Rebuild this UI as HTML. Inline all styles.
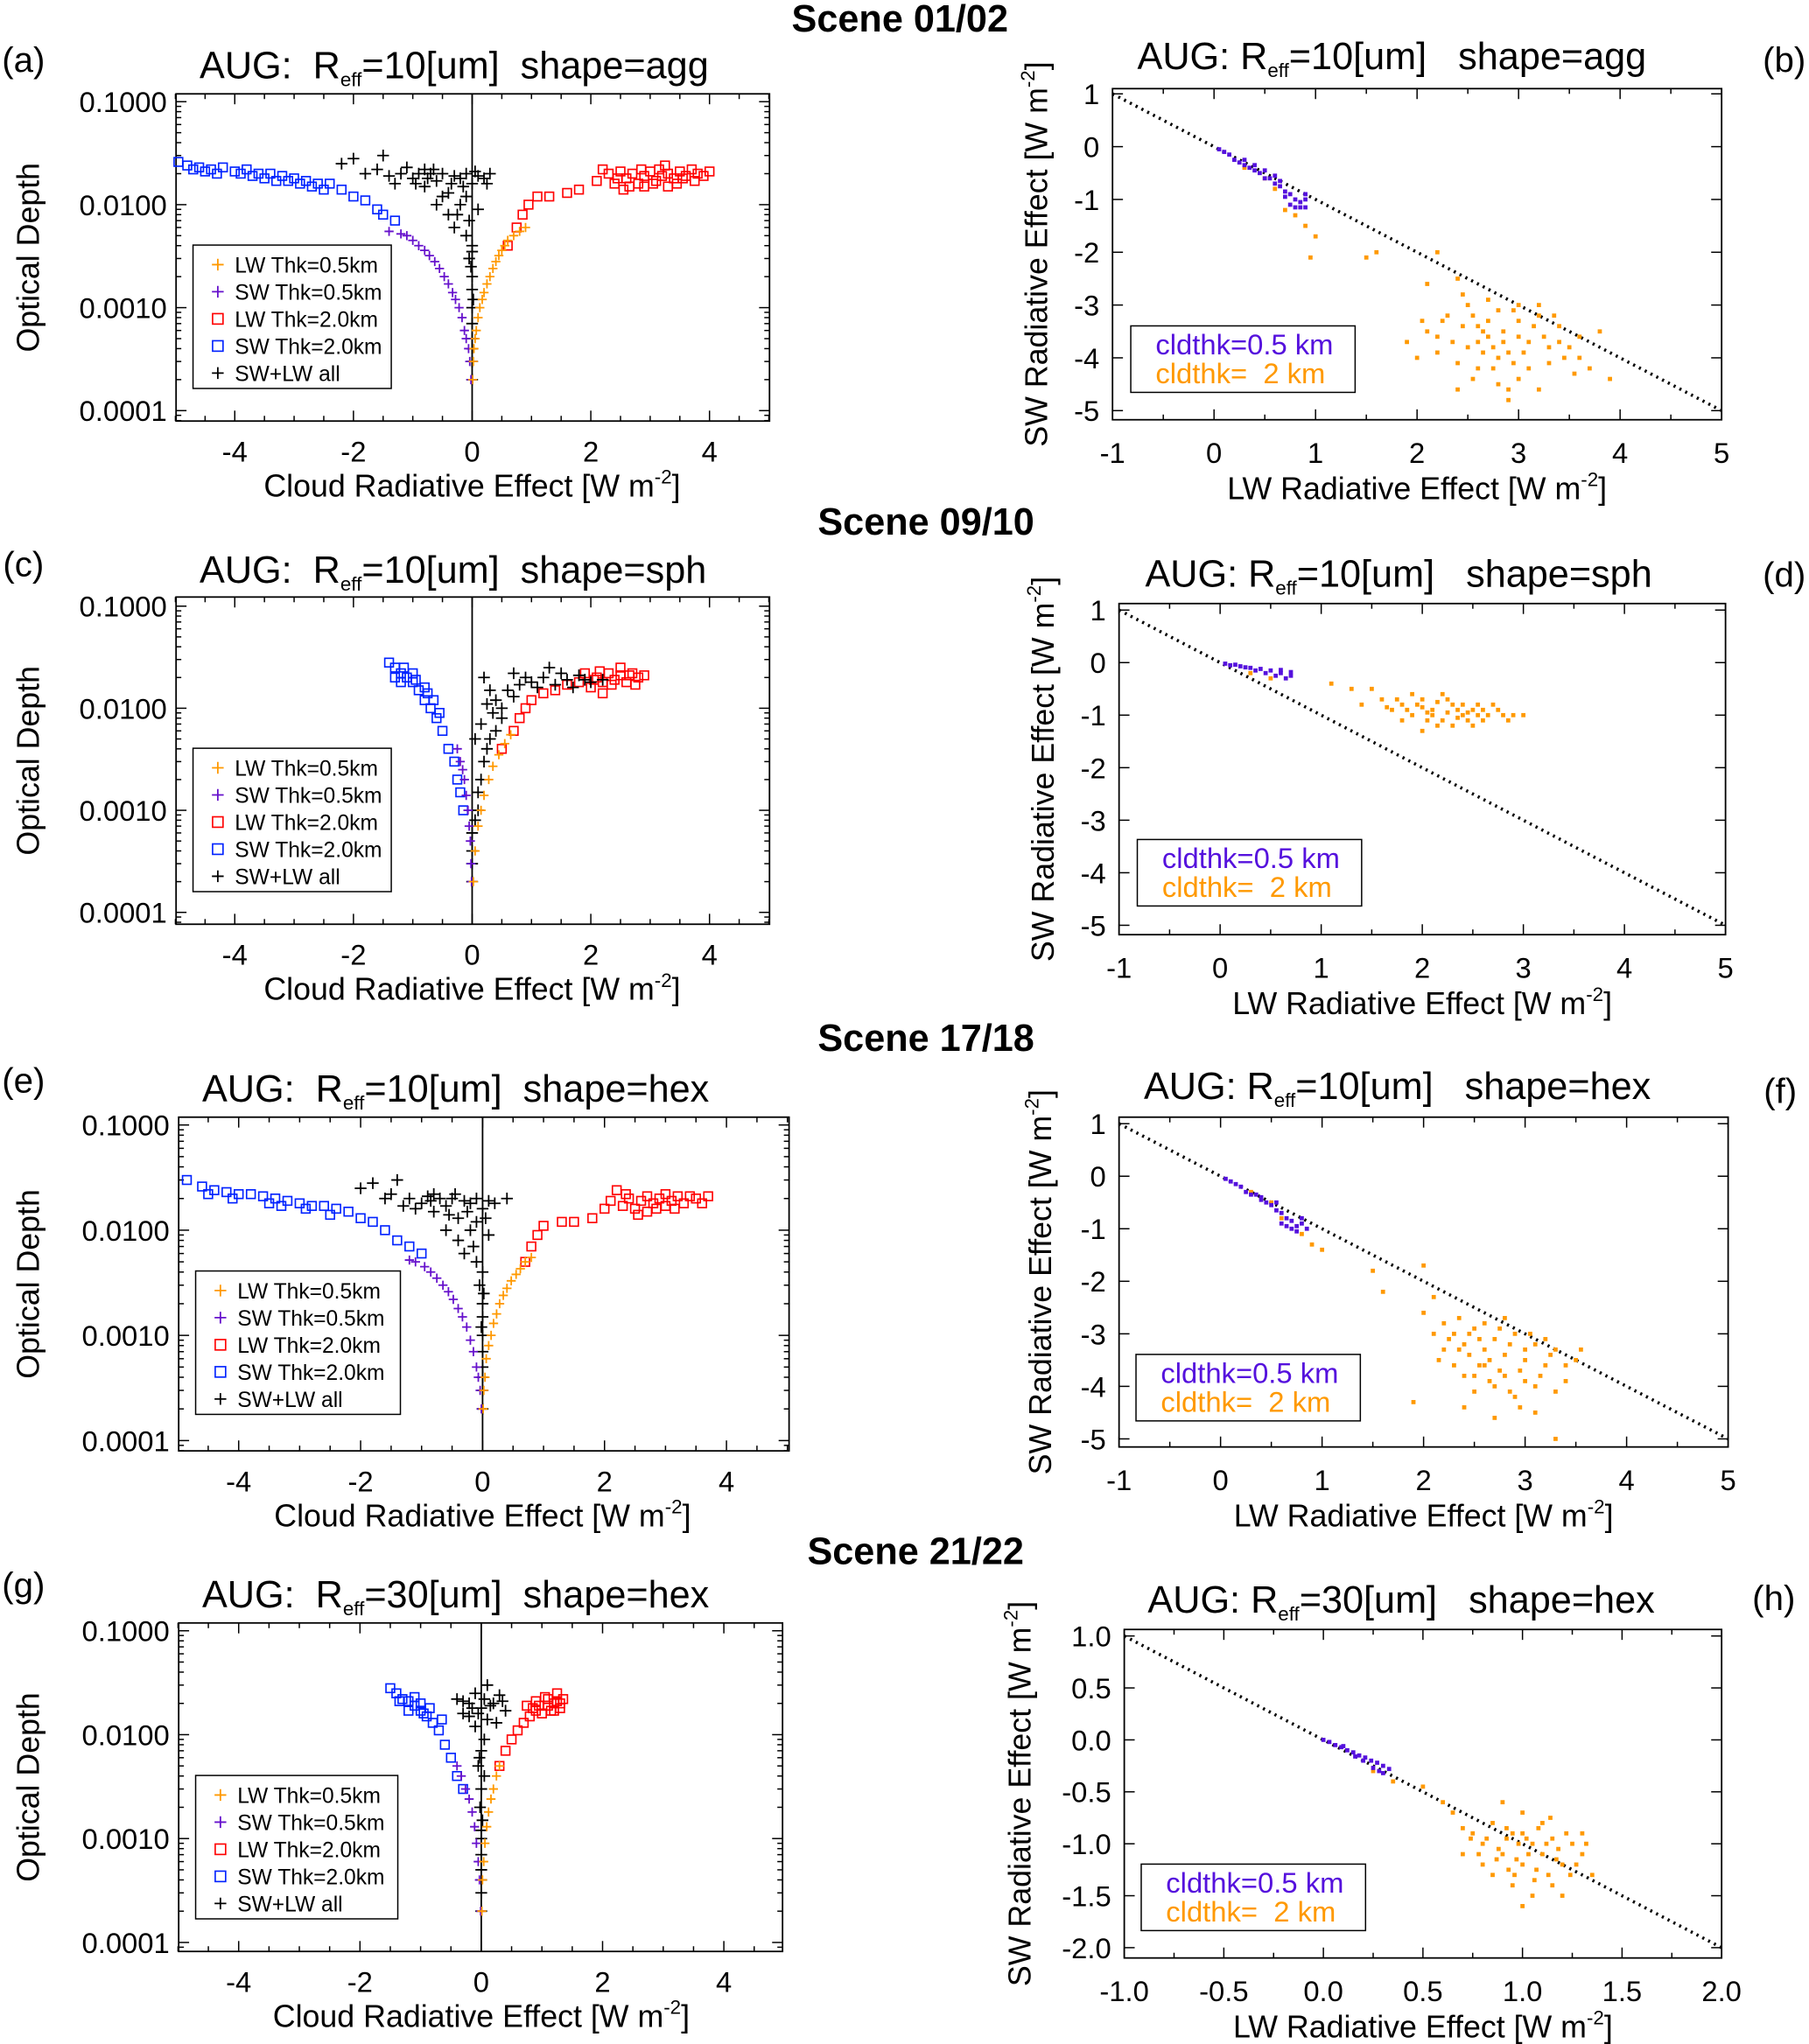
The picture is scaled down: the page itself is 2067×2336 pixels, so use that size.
<!DOCTYPE html>
<html><head><meta charset="utf-8"><style>
html,body{margin:0;padding:0;background:#fff;}
svg{display:block;font-family:"Liberation Sans",sans-serif;}
</style></head><body>
<svg id="fig" xmlns="http://www.w3.org/2000/svg" width="2067" height="2336" viewBox="0 0 1387 1568" preserveAspectRatio="none"></svg>
<script>
// ---------- data ----------
const aLW05=[[0.01,0.0002],[0.02,0.0003],[0.03,0.0004],[0.05,0.0005],[0.07,0.0006],[0.1,0.0008],[0.13,0.001],[0.17,0.0012],[0.2,0.0014],[0.25,0.0017],[0.3,0.002],[0.35,0.0024],[0.4,0.0028],[0.45,0.0032],[0.5,0.0036],[0.55,0.004],[0.6,0.0045],[0.7,0.005],[0.8,0.0055],[0.9,0.006]];
const aSW05=[[-0.02,0.0002],[-0.04,0.0003],[-0.06,0.0004],[-0.1,0.0005],[-0.13,0.0006],[-0.17,0.0008],[-0.22,0.001],[-0.28,0.0012],[-0.33,0.0014],[-0.4,0.0017],[-0.47,0.002],[-0.55,0.0024],[-0.63,0.0028],[-0.72,0.0032],[-0.8,0.0036],[-0.9,0.004],[-1.0,0.0045],[-1.1,0.005],[-1.2,0.0052],[-1.4,0.0055]];
const aLW20=[[0.6,0.004],[0.75,0.006],[0.85,0.008],[0.95,0.01],[1.1,0.012],[1.3,0.012],[1.6,0.013],[1.8,0.014],[2.1,0.017],[2.3,0.02],[2.4,0.016],[2.6,0.018],[2.7,0.02],[2.8,0.016],[2.9,0.019],[3.0,0.021],[3.1,0.017],[3.2,0.019],[3.3,0.02],[3.4,0.018],[3.5,0.021],[3.6,0.019],[3.7,0.022],[3.8,0.02],[4.0,0.021],[2.5,0.021],[3.3,0.015],[2.9,0.015],[2.2,0.022],[2.45,0.018],[2.65,0.015],[2.85,0.022],[3.05,0.016],[3.15,0.022],[3.45,0.016],[3.55,0.018],[3.75,0.017],[3.9,0.019],[2.55,0.014],[3.25,0.024]];
const aSW20=[[-4.95,0.026],[-4.8,0.024],[-4.6,0.023],[-4.4,0.022],[-4.2,0.023],[-4.0,0.021],[-3.8,0.022],[-3.6,0.02],[-3.4,0.02],[-3.2,0.019],[-3.0,0.018],[-2.8,0.017],[-2.6,0.016],[-2.4,0.016],[-2.2,0.014],[-2.0,0.012],[-1.8,0.011],[-1.6,0.009],[-1.5,0.008],[-1.3,0.007],[-3.9,0.02],[-4.5,0.021],[-3.3,0.017],[-2.9,0.016],[-4.7,0.022],[-4.3,0.02],[-3.7,0.019],[-3.5,0.018],[-3.1,0.017],[-2.7,0.015],[-2.5,0.014]];
const aALL=[[-2.2,0.025],[-2.0,0.028],[-1.8,0.02],[-1.5,0.03],[-1.3,0.016],[-1.2,0.02],[-1.0,0.018],[-0.9,0.02],[-0.8,0.015],[-0.7,0.02],[-0.6,0.017],[-0.5,0.02],[-0.4,0.013],[-0.3,0.019],[-0.2,0.018],[-0.1,0.02],[0.0,0.016],[0.1,0.019],[0.2,0.018],[0.3,0.02],[-0.6,0.01],[-0.4,0.008],[-0.3,0.006],[-0.2,0.01],[-0.1,0.005],[0.0,0.004],[-0.05,0.003],[0.0,0.002],[0.0,0.0015],[0.0,0.001],[0.0,0.0007],[0.0,0.0005],[0.0,0.0004],[0.0,0.0003],[0.0,0.0002],[-0.1,0.012],[0.1,0.009],[-0.8,0.022],[-1.6,0.022],[-1.1,0.023],[-1.4,0.019],[-0.95,0.016],[-0.65,0.022],[-0.35,0.016],[-0.15,0.015],[0.05,0.021],[-0.5,0.012],[-0.25,0.008],[-0.05,0.007],[0.02,0.0012],[-0.02,0.0025],[0.0,0.0035],[-0.75,0.018],[0.25,0.016]];

const cLW05=[[0.02,0.0002],[0.05,0.0004],[0.1,0.0007],[0.15,0.001],[0.2,0.0014],[0.28,0.002],[0.35,0.0027],[0.45,0.0035],[0.55,0.0045],[0.65,0.0055]];
const cSW05=[[-0.01,0.0002],[-0.02,0.0003],[-0.03,0.0005],[-0.05,0.0007],[-0.07,0.001],[-0.1,0.0014],[-0.13,0.002],[-0.16,0.0025],[-0.2,0.003],[-0.25,0.004]];
const cLW20=[[0.5,0.004],[0.7,0.006],[0.8,0.008],[0.9,0.01],[1.0,0.012],[1.2,0.014],[1.4,0.015],[1.6,0.017],[1.8,0.018],[2.0,0.016],[2.1,0.02],[2.2,0.018],[2.3,0.022],[2.4,0.019],[2.5,0.021],[2.6,0.018],[2.7,0.022],[2.8,0.02],[2.9,0.021],[2.2,0.014],[2.5,0.025],[1.9,0.022],[2.15,0.023],[2.35,0.017],[2.65,0.021],[2.75,0.017],[2.05,0.019]];
const cSW20=[[-1.4,0.028],[-1.3,0.025],[-1.2,0.022],[-1.1,0.02],[-1.0,0.018],[-0.9,0.015],[-0.8,0.012],[-0.7,0.01],[-0.6,0.008],[-0.5,0.006],[-0.4,0.004],[-0.3,0.003],[-0.25,0.002],[-0.2,0.0015],[-0.15,0.001],[-1.2,0.018],[-1.0,0.022],[-0.8,0.016],[-1.3,0.02],[-0.65,0.012],[-1.15,0.025],[-0.95,0.019],[-0.75,0.014],[-0.55,0.009]];
const cALL=[[0,0.0002],[0,0.0003],[0,0.0004],[0,0.0006],[0.05,0.0008],[0.1,0.001],[0.1,0.0015],[0.15,0.002],[0.2,0.003],[0.25,0.004],[0.3,0.005],[0.4,0.006],[0.5,0.008],[0.4,0.012],[0.6,0.015],[0.8,0.017],[1.0,0.018],[1.2,0.02],[1.4,0.017],[1.6,0.019],[1.8,0.021],[2.0,0.018],[1.3,0.025],[0.9,0.02],[0.3,0.015],[0.2,0.02],[0.7,0.022],[1.5,0.022],[2.2,0.019],[0.5,0.01],[0.35,0.009],[0.7,0.013],[1.1,0.016],[1.7,0.016],[0.15,0.007],[0.25,0.011],[1.9,0.019],[0.05,0.005]];

const eLW05=[[0.01,0.0002],[0.02,0.0003],[0.04,0.0004],[0.06,0.0006],[0.1,0.0008],[0.14,0.001],[0.18,0.0013],[0.23,0.0016],[0.28,0.002],[0.34,0.0024],[0.4,0.0028],[0.47,0.0033],[0.55,0.0038],[0.62,0.0043],[0.7,0.005],[0.8,0.0055]];
const eSW05=[[-0.02,0.0002],[-0.04,0.0003],[-0.07,0.0004],[-0.1,0.0005],[-0.15,0.0007],[-0.2,0.0009],[-0.26,0.0012],[-0.33,0.0015],[-0.4,0.0018],[-0.48,0.0022],[-0.56,0.0026],[-0.65,0.003],[-0.75,0.0035],[-0.85,0.004],[-0.95,0.0045],[-1.1,0.005],[-1.2,0.0052]];
const eLW20=[[0.7,0.005],[0.8,0.007],[0.9,0.009],[1.0,0.011],[1.3,0.012],[1.5,0.012],[1.8,0.013],[2.0,0.016],[2.1,0.019],[2.3,0.017],[2.4,0.02],[2.5,0.016],[2.6,0.019],[2.7,0.021],[2.8,0.018],[2.9,0.02],[3.0,0.017],[3.1,0.019],[3.2,0.021],[3.3,0.018],[3.5,0.02],[3.7,0.021],[2.2,0.024],[2.7,0.015],[3.0,0.022],[2.35,0.022],[2.55,0.014],[2.85,0.016],[3.15,0.016],[3.4,0.021],[3.6,0.018]];
const eSW20=[[-4.85,0.03],[-4.6,0.026],[-4.4,0.024],[-4.2,0.023],[-4.0,0.022],[-3.8,0.022],[-3.6,0.021],[-3.4,0.02],[-3.2,0.019],[-3.0,0.018],[-2.8,0.017],[-2.6,0.017],[-2.4,0.016],[-2.2,0.015],[-2.0,0.013],[-1.8,0.012],[-1.6,0.01],[-1.4,0.008],[-1.2,0.007],[-1.0,0.006],[-4.1,0.02],[-3.5,0.018],[-2.9,0.016],[-4.5,0.022],[-3.3,0.017],[-2.5,0.014]];
const eALL=[[-2.0,0.025],[-1.8,0.028],[-1.6,0.02],[-1.4,0.03],[-1.3,0.017],[-1.2,0.02],[-1.0,0.018],[-0.9,0.021],[-0.8,0.015],[-0.7,0.02],[-0.6,0.017],[-0.5,0.02],[-0.4,0.013],[-0.3,0.019],[-0.2,0.018],[-0.1,0.02],[0.0,0.016],[0.1,0.019],[0.2,0.018],[0.4,0.02],[-0.6,0.01],[-0.4,0.008],[-0.3,0.006],[-0.2,0.01],[-0.1,0.005],[0.0,0.004],[-0.05,0.003],[0.0,0.002],[0.0,0.0015],[0.0,0.001],[0.0,0.0007],[0.0,0.0005],[0.0,0.0004],[0.0,0.0003],[0.0,0.0002],[-0.1,0.012],[0.1,0.009],[-0.8,0.022],[-1.5,0.022],[-1.1,0.016],[-0.85,0.019],[-0.55,0.014],[-0.25,0.015],[0.05,0.013],[-0.45,0.022],[-0.15,0.007],[0.02,0.0025],[-0.02,0.0012]];

const gLW05=[[0.01,0.0002],[0.02,0.0004],[0.04,0.0006],[0.06,0.0009],[0.09,0.0013],[0.12,0.0018],[0.16,0.0024],[0.2,0.003],[0.25,0.004],[0.3,0.005]];
const gSW05=[[-0.01,0.0002],[-0.03,0.0004],[-0.05,0.0006],[-0.08,0.0009],[-0.11,0.0013],[-0.15,0.0018],[-0.2,0.0024],[-0.26,0.003],[-0.33,0.004],[-0.4,0.005]];
const gLW20=[[0.3,0.005],[0.4,0.007],[0.5,0.009],[0.6,0.011],[0.7,0.013],[0.8,0.015],[0.9,0.017],[1.0,0.016],[1.1,0.019],[1.2,0.02],[1.3,0.018],[1.35,0.022],[0.9,0.021],[1.05,0.023],[1.25,0.025],[0.75,0.019],[1.15,0.017],[1.3,0.02],[0.95,0.019],[1.1,0.022],[1.2,0.017],[0.85,0.018],[1.25,0.021]];
const gSW20=[[-1.5,0.028],[-1.4,0.025],[-1.3,0.022],[-1.2,0.021],[-1.1,0.019],[-1.0,0.017],[-0.9,0.015],[-0.8,0.013],[-0.7,0.011],[-0.6,0.008],[-0.5,0.006],[-0.4,0.004],[-0.3,0.003],[-1.2,0.017],[-1.0,0.02],[-0.85,0.018],[-0.65,0.014],[-1.35,0.021],[-1.1,0.023],[-0.95,0.016]];
const gALL=[[0,0.0002],[0,0.0003],[0,0.0004],[0,0.0005],[0,0.0007],[0,0.001],[0.02,0.0015],[-0.02,0.002],[0,0.003],[0.05,0.004],[-0.05,0.005],[0,0.007],[0.05,0.009],[-0.1,0.012],[0.1,0.014],[-0.3,0.016],[-0.2,0.02],[0,0.018],[0.2,0.02],[0.4,0.017],[-0.4,0.022],[-0.1,0.025],[0.3,0.024],[0.1,0.03],[-0.2,0.015],[0.25,0.013],[-0.05,0.016],[0.15,0.019],[-0.3,0.021],[0.05,0.022],[-0.15,0.018],[0.35,0.021],[0.0,0.0012],[-0.03,0.006]];

const bSW05=[[0.05,-0.05],[0.1,-0.1],[0.15,-0.15],[0.2,-0.25],[0.25,-0.3],[0.3,-0.35],[0.35,-0.4],[0.4,-0.45],[0.45,-0.5],[0.5,-0.6],[0.55,-0.6],[0.6,-0.7],[0.65,-0.75],[0.7,-0.85],[0.75,-0.9],[0.8,-1.0],[0.85,-1.05],[0.9,-1.0],[0.85,-1.15],[0.75,-1.1],[0.9,-0.9],[0.3,-0.25],[0.5,-0.45],[0.6,-0.55],[0.7,-0.95],[0.8,-1.15],[0.9,-1.15],[0.65,-0.65],[0.4,-0.35]];
const bLW20=[[0.3,-0.4],[0.5,-0.6],[0.6,-0.8],[0.7,-1.2],[0.8,-1.3],[0.9,-1.5],[1.0,-1.7],[0.95,-2.1],[1.6,-2.0],[1.5,-2.1],[2.2,-2.0],[2.4,-2.5],[2.1,-2.6],[2.5,-3.0],[2.3,-3.2],[2.6,-3.4],[2.8,-3.1],[3.0,-3.3],[3.2,-3.0],[3.1,-3.7],[2.9,-3.9],[2.7,-3.6],[2.5,-3.8],[2.2,-3.9],[2.0,-4.0],[2.6,-4.2],[2.8,-4.5],[3.0,-4.4],[3.3,-4.1],[3.5,-3.8],[3.6,-3.6],[3.8,-3.5],[3.4,-3.4],[3.7,-4.2],[3.9,-4.4],[2.4,-4.6],[2.9,-4.8],[3.2,-4.6],[2.1,-3.5],[1.9,-3.7],[3.0,-3.6],[2.7,-3.3],[3.3,-3.8],[2.8,-4.0],[2.6,-3.7]];
const bLW20b=[[2.55,-3.2],[2.65,-3.5],[2.75,-3.8],[2.85,-3.5],[2.95,-3.1],[3.05,-3.9],[3.15,-3.4],[3.25,-3.6],[3.35,-3.2],[3.45,-4.0],[2.45,-3.4],[2.35,-3.7],[2.25,-3.3],[2.75,-4.2],[2.95,-4.1],[3.1,-4.2],[2.65,-3.9],[2.85,-3.7],[3.4,-3.7],[3.55,-4.3],[2.55,-4.4],[2.2,-3.6],[2.45,-2.8],[2.7,-2.9],[3.2,-3.2],[2.9,-4.6],[3.6,-4.0],[2.4,-4.1],[2.05,-3.3],[3.0,-3.0]];
const dSW05=[[0.05,-0.02],[0.1,-0.05],[0.2,-0.07],[0.3,-0.1],[0.4,-0.12],[0.5,-0.15],[0.6,-0.2],[0.7,-0.25],[0.65,-0.3],[0.45,-0.2],[0.35,-0.15],[0.55,-0.25],[0.15,-0.04],[0.25,-0.09],[0.6,-0.14],[0.7,-0.18]];
const dLW20=[[0.3,-0.2],[0.5,-0.3],[1.1,-0.4],[1.3,-0.5],[1.5,-0.5],[1.4,-0.8],[1.6,-0.7],[1.7,-0.9],[1.8,-0.8],[1.9,-1.0],[2.0,-0.7],[2.1,-0.9],[2.2,-1.1],[2.3,-0.8],[2.4,-1.0],[2.5,-0.9],[2.6,-1.1],[2.7,-0.8],[2.8,-1.0],[2.9,-1.0],[3.0,-1.0],[2.0,-1.3],[2.2,-0.6],[1.8,-1.1],[2.5,-1.2],[2.3,-1.2],[1.9,-0.6],[2.1,-1.0],[2.4,-0.8],[2.6,-0.9]];
const dLW20b=[[1.85,-0.9],[1.95,-0.8],[2.05,-0.95],[2.15,-0.75],[2.25,-0.95],[2.35,-0.9],[2.45,-1.1],[2.55,-0.8],[2.65,-1.0],[2.75,-0.9],[2.85,-1.1],[1.75,-0.7],[2.05,-1.1],[2.25,-0.7],[2.45,-0.95],[2.15,-1.2],[1.65,-0.85],[2.35,-1.05],[2.55,-1.0],[2.0,-0.85]];
const fSW05=[[0.05,-0.05],[0.1,-0.1],[0.15,-0.15],[0.2,-0.2],[0.25,-0.3],[0.3,-0.35],[0.35,-0.35],[0.4,-0.45],[0.45,-0.5],[0.5,-0.55],[0.55,-0.65],[0.6,-0.7],[0.65,-0.8],[0.7,-0.85],[0.75,-0.95],[0.8,-0.9],[0.75,-1.05],[0.65,-0.95],[0.8,-0.8],[0.4,-0.4],[0.55,-0.5],[0.7,-1.0],[0.6,-0.9],[0.85,-1.0]];
const fLW20=[[0.3,-0.3],[0.5,-0.5],[0.6,-0.8],[0.8,-1.1],[0.9,-1.3],[1.0,-1.4],[1.5,-1.8],[1.6,-2.2],[2.0,-1.7],[2.1,-2.3],[2.0,-2.6],[2.2,-2.8],[2.3,-3.0],[2.4,-3.2],[2.5,-2.9],[2.6,-3.3],[2.7,-3.1],[2.8,-3.4],[2.9,-3.0],[3.0,-3.5],[3.1,-3.2],[3.2,-3.6],[3.3,-3.3],[3.4,-3.9],[3.5,-3.5],[2.3,-3.6],[2.5,-3.8],[2.7,-4.0],[2.9,-4.2],[2.4,-4.4],[3.1,-4.5],[1.9,-4.3],[2.6,-3.6],[2.8,-3.8],[3.0,-3.9],[3.3,-4.1],[2.2,-3.3],[3.3,-5.0],[2.7,-4.6],[2.1,-3.0]];
const fLW20b=[[2.35,-2.7],[2.45,-3.4],[2.55,-3.1],[2.65,-3.5],[2.75,-2.9],[2.85,-3.2],[2.95,-3.7],[3.05,-3.0],[3.15,-3.8],[3.25,-3.4],[2.45,-3.0],[2.55,-3.6],[2.65,-3.9],[2.35,-3.3],[2.25,-3.1],[2.75,-3.7],[2.85,-4.1],[3.0,-3.3],[3.2,-3.1],[3.4,-3.6],[2.6,-2.8],[2.5,-4.1],[2.95,-4.4],[2.15,-3.5],[3.1,-4.0],[2.4,-3.8],[3.55,-3.3],[2.8,-2.7]];
const hSW05=[[0.0,0.0],[0.03,-0.02],[0.06,-0.05],[0.09,-0.07],[0.12,-0.1],[0.15,-0.12],[0.18,-0.15],[0.21,-0.17],[0.24,-0.2],[0.27,-0.22],[0.3,-0.25],[0.33,-0.28],[0.3,-0.32],[0.25,-0.27],[0.2,-0.2],[0.1,-0.06],[0.16,-0.16],[0.28,-0.3]];
const hLW20=[[0.25,-0.3],[0.35,-0.4],[0.5,-0.45],[0.6,-0.6],[0.65,-0.7],[0.7,-0.85],[0.75,-0.9],[0.8,-1.0],[0.85,-0.8],[0.9,-1.1],[0.95,-0.9],[1.0,-1.2],[1.05,-1.0],[1.1,-1.1],[1.15,-0.95],[1.2,-1.2],[1.25,-1.0],[1.3,-1.1],[1.35,-1.3],[0.85,-1.3],[0.95,-1.4],[1.05,-1.5],[1.15,-1.4],[1.0,-0.7],[0.9,-0.6],[1.1,-0.8],[0.8,-1.2],[1.2,-1.5],[0.7,-1.1],[1.3,-0.9],[1.0,-1.6]];
const hLW20b=[[0.82,-0.95],[0.88,-1.05],[0.92,-0.85],[0.97,-1.15],[1.02,-0.95],[1.07,-1.25],[1.12,-1.0],[1.17,-1.15],[1.22,-0.9],[1.27,-1.2],[0.87,-1.15],[0.93,-1.25],[0.98,-1.0],[1.03,-1.1],[1.08,-0.85],[1.13,-1.3],[1.18,-1.05],[0.78,-1.1],[0.92,-0.95],[1.0,-0.9],[1.06,-1.35],[0.96,-1.3],[1.24,-1.3],[1.32,-1.0],[0.74,-0.95],[1.14,-0.75]];

// ---------- helpers ----------
const NS="http://www.w3.org/2000/svg";
const svg=document.getElementById('fig');
function el(tag,attrs,parent){const e=document.createElementNS(NS,tag);for(const k in attrs)e.setAttribute(k,attrs[k]);(parent||svg).appendChild(e);return e;}
function txt(s,x,y,size,anchor,parent,extra){const t=el('text',Object.assign({x:x,y:y,'font-size':size,'text-anchor':anchor||'start',fill:'#000'},extra||{}),parent);t.textContent=s;return t;}
const COL={lw05:'#ff9900',sw05:'#6611cc',lw20:'#ff0000',sw20:'#0022ff',all:'#000',purple:'#5511dd'};
const SP='\u00a0';

function plus(g,x,y,s,c){el('path',{d:`M${x-s} ${y}H${x+s}M${x} ${y-s}V${y+s}`,stroke:c,'stroke-width':1.2,fill:'none'},g);}
function sq(g,x,y,s,c){el('rect',{x:x-s,y:y-s,width:2*s,height:2*s,stroke:c,'stroke-width':1.1,fill:'none'},g);}

function leftPanel(P){
  const g=el('g',{});
  
  
  const X=v=>P.x0+v*P.xs;
  const Y=t=>P.y1+(-1-Math.log10(t))*P.dec;
  el('rect',{x:P.l,y:P.t,width:P.r-P.l,height:P.b-P.t,fill:'none',stroke:'#000','stroke-width':1.2},g);
  el('line',{x1:X(0),y1:P.t,x2:X(0),y2:P.b,stroke:'#000','stroke-width':1.2},g);
  for(let v=-5;v<=5;v+=0.5){const x=X(v);if(x<P.l-0.5||x>P.r+0.5)continue;const L=(v%2===0)?8:4;
    el('line',{x1:x,y1:P.b,x2:x,y2:P.b-L,stroke:'#000','stroke-width':1},g);el('line',{x1:x,y1:P.t,x2:x,y2:P.t+L,stroke:'#000','stroke-width':1},g);}
  [-4,-2,0,2,4].forEach(v=>{const t=txt(String(v),X(v),P.b+31,22,'middle',g);});
  for(let d=-5;d<=-1;d++){for(let m=1;m<10;m++){const t=m*Math.pow(10,d);const y=Y(t);if(y<P.t||y>P.b)continue;const L=m===1?8:4;
    el('line',{x1:P.l,y1:y,x2:P.l+L,y2:y,stroke:'#000','stroke-width':1},g);el('line',{x1:P.r,y1:y,x2:P.r-L,y2:y,stroke:'#000','stroke-width':1},g);}}
  ['0.1000','0.0100','0.0010','0.0001'].forEach((s,i)=>{const t=txt(s,P.l-7,Y(Math.pow(10,-1-i))+8,22,'end',g);});
  P.d.sw20.forEach(p=>sq(g,X(p[0]),Y(p[1]),3.3,COL.sw20));
  P.d.lw20.forEach(p=>sq(g,X(p[0]),Y(p[1]),3.3,COL.lw20));
  P.d.all.forEach(p=>plus(g,X(p[0]),Y(p[1]),4.5,COL.all));
  P.d.sw05.forEach(p=>plus(g,X(p[0]),Y(p[1]),3.5,COL.sw05));
  P.d.lw05.forEach(p=>plus(g,X(p[0]),Y(p[1]),3.5,COL.lw05));
  const tt=el('text',{x:P.tx,y:P.ty,'font-size':29,fill:'#000'},g);
  
  tt.innerHTML=`AUG:${SP}${SP}R<tspan font-size="15" dy="6">eff</tspan><tspan dy="-6">=${P.reff}[um]${SP}${SP}shape=${P.shape}</tspan>`;
  const yt=txt('Optical Depth',0,0,24,'middle',g,{transform:`translate(30,${(P.t+P.b)/2}) rotate(-90)`});
  
  const xt=el('text',{x:X(0),y:P.b+58,'font-size':24,'text-anchor':'middle',fill:'#000'},g);
  
  xt.innerHTML='Cloud Radiative Effect [W m<tspan font-size="15" dy="-10">-2</tspan><tspan dy="10">]</tspan>';
  const lg=el('g',{},g);
  
  el('rect',{x:P.lx,y:P.ly,width:P.lw,height:110,fill:'#fff',stroke:'#000','stroke-width':1},lg);
  const items=[['LW Thk=0.5km',COL.lw05,'p'],['SW Thk=0.5km',COL.sw05,'p'],['LW Thk=2.0km',COL.lw20,'s'],['SW Thk=2.0km',COL.sw20,'s'],['SW+LW all','#000','p']];
  items.forEach((it,i)=>{const y=P.ly+15+i*20.8;const mx=P.lx+19;
    if(it[2]==='p')plus(lg,mx,y,4.5,it[1]);else sq(lg,mx,y,4,it[1]);
    const t=txt(it[0],P.lx+32,y+6,16.5,'start',lg);});
}

function rightPanel(P){
  const g=el('g',{});
  
  
  const X=v=>P.l+(v-P.xmin)*(P.r-P.l)/(P.xmax-P.xmin);
  const Y=v=>P.y1+(P.ymax-v)*P.ys;
  el('rect',{x:P.l,y:P.t,width:P.r-P.l,height:P.b-P.t,fill:'none',stroke:'#000','stroke-width':1.2},g);
  el('line',{x1:X(P.xmin),y1:Y(-P.xmin),x2:X(P.xmax),y2:Y(-P.xmax),stroke:'#000','stroke-width':2.4,'stroke-dasharray':'1.6,3.4'},g);
  P.xt.forEach((s,i)=>{const v=P.xmin+i*P.xstep;const x=X(v);
    el('line',{x1:x,y1:P.b,x2:x,y2:P.b-8,stroke:'#000'},g);el('line',{x1:x,y1:P.t,x2:x,y2:P.t+8,stroke:'#000'},g);
    if(i<P.xt.length-1){const xm=X(v+P.xstep/2);el('line',{x1:xm,y1:P.b,x2:xm,y2:P.b-4,stroke:'#000'},g);el('line',{x1:xm,y1:P.t,x2:xm,y2:P.t+4,stroke:'#000'},g);}
    const t=txt(s,x,P.b+33,22,'middle',g);});
  P.yt.forEach((s,i)=>{const v=P.ymax-i*P.ystep;const y=Y(v);
    el('line',{x1:P.l,y1:y,x2:P.l+8,y2:y,stroke:'#000'},g);el('line',{x1:P.r,y1:y,x2:P.r-8,y2:y,stroke:'#000'},g);
    const t=txt(s,P.l-10,y+8,22,'end',g);});
  P.d.lw20.forEach(p=>el('rect',{x:X(p[0])-1.6,y:Y(p[1])-1.6,width:3.2,height:3.2,fill:COL.lw05},g));
  P.d.sw05.forEach(p=>el('rect',{x:X(p[0])-1.6,y:Y(p[1])-1.6,width:3.2,height:3.2,fill:COL.purple},g));
  const tt=el('text',{x:P.tx,y:P.ty,'font-size':29,fill:'#000'},g);
  
  tt.innerHTML=`AUG:${SP}R<tspan font-size="15" dy="6">eff</tspan><tspan dy="-6">=${P.reff}[um]${SP}${SP}${SP}shape=${P.shape}</tspan>`;
  const yt=el('text',{'font-size':24,'text-anchor':'middle',fill:'#000',transform:`translate(${P.ytx},${(P.t+P.b)/2}) rotate(-90)`},g);
  
  yt.innerHTML='SW Radiative Effect [W m<tspan font-size="15" dy="-10">-2</tspan><tspan dy="10">]</tspan>';
  const xt=el('text',{x:(P.l+P.r)/2,y:P.b+61,'font-size':24,'text-anchor':'middle',fill:'#000'},g);
  
  xt.innerHTML='LW Radiative Effect [W m<tspan font-size="15" dy="-10">-2</tspan><tspan dy="10">]</tspan>';
  const lg=el('g',{},g);
  
  el('rect',{x:P.lx,y:P.ly,width:172,height:51,fill:'#fff',stroke:'#000','stroke-width':1},lg);
  const t1=txt('cldthk=0.5 km',P.lx+19,P.ly+22,22,'start',lg,{fill:COL.purple});
  const t2=txt('cldthk='+SP+SP+'2 km',P.lx+19,P.ly+44,22,'start',lg,{fill:COL.lw05});
}

// ---------- panels ----------
leftPanel({id:'a',l:135,t:72,r:590,b:323,x0:362,xs:45.5,y1:78,dec:79,tx:153,ty:60,reff:10,shape:'agg',lx:148,ly:188,lw:152,d:{lw05:aLW05,sw05:aSW05,lw20:aLW20,sw20:aSW20,all:aALL}});
leftPanel({id:'c',l:135,t:458,r:590,b:709,x0:362,xs:45.5,y1:465,dec:78.3,tx:153,ty:447,reff:10,shape:'sph',lx:148,ly:574,lw:152,d:{lw05:cLW05,sw05:cSW05,lw20:cLW20,sw20:cSW20,all:cALL}});
leftPanel({id:'e',l:137,t:857,r:605,b:1113,x0:370,xs:46.75,y1:863,dec:80.7,tx:155,ty:845,reff:10,shape:'hex',lx:150,ly:975,lw:157,d:{lw05:eLW05,sw05:eSW05,lw20:eLW20,sw20:eSW20,all:eALL}});
leftPanel({id:'g',l:137,t:1245,r:600,b:1497,x0:369,xs:46.5,y1:1251,dec:79.7,tx:155,ty:1233,reff:30,shape:'hex',lx:150,ly:1362,lw:155,d:{lw05:gLW05,sw05:gSW05,lw20:gLW20,sw20:gSW20,all:gALL}});

const xt1=['-1','0','1','2','3','4','5'], yt1=['1','0','-1','-2','-3','-4','-5'];
const xt2=['-1.0','-0.5','0.0','0.5','1.0','1.5','2.0'], yt2=['1.0','0.5','0.0','-0.5','-1.0','-1.5','-2.0'];
rightPanel({id:'b',l:853,t:68,r:1320,b:322,xmin:-1,xmax:5,xstep:1,ymax:1,y1:72,ys:40.5,ystep:1,xt:xt1,yt:yt1,tx:872,ty:53,reff:10,shape:'agg',ytx:803,lx:867,ly:250,d:{sw05:bSW05,lw20:bLW20.concat(bLW20b)}});
rightPanel({id:'d',l:858,t:463,r:1323,b:717,xmin:-1,xmax:5,xstep:1,ymax:1,y1:468,ys:40.3,ystep:1,xt:xt1,yt:yt1,tx:878,ty:450,reff:10,shape:'sph',ytx:808,lx:872,ly:644,d:{sw05:dSW05,lw20:dLW20.concat(dLW20b)}});
rightPanel({id:'f',l:858,t:857,r:1325,b:1110,xmin:-1,xmax:5,xstep:1,ymax:1,y1:862,ys:40.3,ystep:1,xt:xt1,yt:yt1,tx:877,ty:843,reff:10,shape:'hex',ytx:806,lx:871,ly:1039,d:{sw05:fSW05,lw20:fLW20.concat(fLW20b)}});
rightPanel({id:'h',l:862,t:1250,r:1320,b:1502,xmin:-1,xmax:2,xstep:0.5,ymax:1,y1:1255,ys:79.7,ystep:0.5,xt:xt2,yt:yt2,tx:880,ty:1237,reff:30,shape:'hex',ytx:790,lx:875,ly:1430,d:{sw05:hSW05,lw20:hLW20.concat(hLW20b)}});

[['Scene 01/02',690,24],['Scene 09/10',710,410],['Scene 17/18',710,806],['Scene 21/22',702,1200]].forEach(s=>{
  const t=txt(s[0],s[1],s[2],29,'middle',svg,{'font-weight':'bold'});
  
  
});
[['(a)',18,55],['(b)',1368,55],['(c)',18,442],['(d)',1368,450],['(e)',18,838],['(f)',1365,846],['(g)',18,1225],['(h)',1360,1235]].forEach(s=>{
  const t=txt(s[0],s[1],s[2],27,'middle');
  
  
});
</script>
</body></html>
